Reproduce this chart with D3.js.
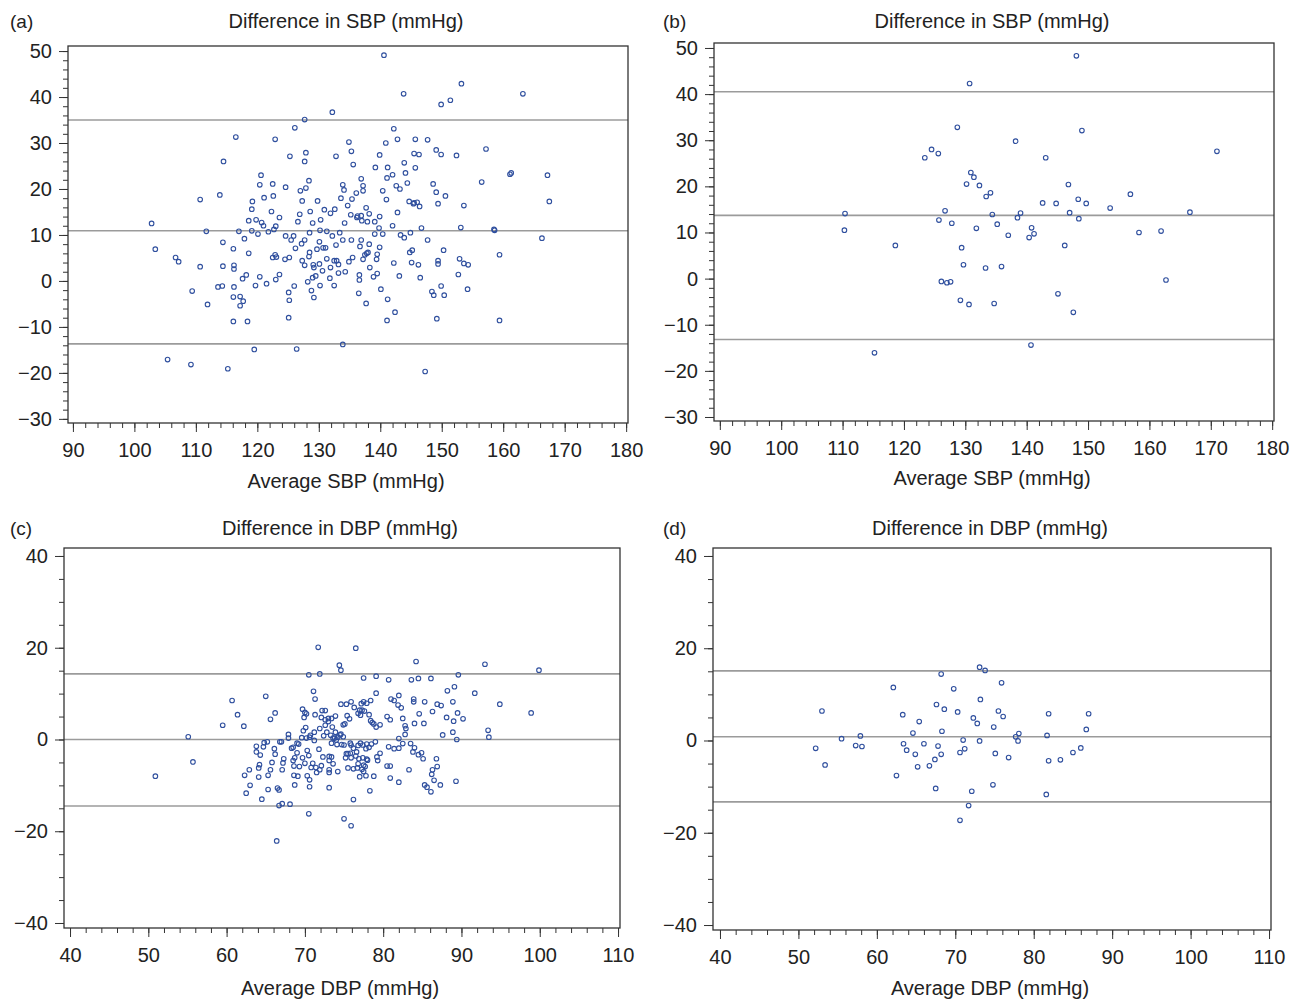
<!DOCTYPE html>
<html>
<head>
<meta charset="utf-8">
<script src="https://cdn.jsdelivr.net/npm/d3@7"></script>
<style>
  body { margin: 0; background: #fff; }
  text { font-family: "Liberation Sans", Arial, Helvetica, sans-serif; fill: #222; }
</style>
</head>
<body>
<div id="chart"></div>
<script>
// ---- data: [average, difference] ----
const sbpAllPoints = [
  [132.2,36.7],[127.7,35.1],[126.1,33.3],[116.5,31.3],[122.9,30.8],[127.9,27.9],[125.3,27.1],[132.8,27.1],[114.5,26.0],[127.7,26.0],
  [120.6,23.0],[120.4,20.9],[122.5,21.1],[124.6,20.4],[128.4,21.8],[127.9,20.2],[127.0,19.6],[133.9,20.9],[134.1,19.8],[113.9,18.7],
  [110.7,17.7],[121.1,18.1],[122.6,18.5],[119.2,17.3],[127.3,17.4],[129.8,17.4],[133.6,18.0],[119.1,15.6],[122.3,15.1],[128.6,15.1],
  [130.9,15.5],[132.6,15.6],[131.9,14.7],[126.9,14.5],[123.6,13.8],[118.6,13.1],[119.8,13.3],[120.7,12.7],[121.0,12.0],[123.0,11.9],
  [122.7,11.2],[126.6,12.9],[129.0,12.6],[130.3,13.3],[134.2,12.6],[102.8,12.5],
  [140.6,49.1],[143.8,40.7],[153.2,42.9],[149.9,38.4],[151.4,39.3],[163.2,40.7],[142.2,33.1],[134.9,30.2],[140.9,30.0],[142.8,30.8],
  [145.7,30.8],[147.7,30.7],[135.3,28.2],[139.9,27.4],[145.5,27.7],[146.3,27.5],[149.1,28.5],[149.9,27.5],[152.4,27.3],[157.2,28.7],
  [135.6,25.3],[139.2,24.7],[141.2,24.7],[143.9,25.7],[145.7,24.6],[144.1,23.5],[142.0,23.1],[141.1,22.4],[136.9,22.2],[137.2,20.7],
  [137.2,19.6],[136.1,19.1],[140.4,19.6],[142.6,20.7],[143.2,20.0],[144.4,21.3],[148.6,21.1],[149.1,19.3],[150.6,18.5],[156.5,21.5],
  [161.1,23.2],[161.3,23.5],[167.2,23.0],[134.7,16.4],[135.4,17.8],[141.0,17.7],[137.7,15.9],[144.7,17.3],[145.4,16.8],[145.5,17.0],
  [146.0,17.1],[146.4,16.2],[149.4,16.8],[153.6,16.4],[167.5,17.3],[135.2,14.4],[136.2,13.8],[136.3,14.1],[136.9,14.2],[137.0,13.1],
  [137.9,12.9],[138.2,14.6],[139.1,12.9],[139.9,14.0],[142.8,14.9],[142.0,12.0],[139.8,11.5],[146.7,11.5],[153.1,11.6],[158.5,11.2],
  [158.6,11.0],
  [111.7,10.8],[117.0,10.8],[119.1,10.9],[120.1,10.2],[121.8,10.7],[124.6,9.8],[125.9,9.8],[125.5,8.9],[128.5,10.5],[130.2,11.0],
  [131.3,10.8],[132.2,9.8],[133.4,10.5],[133.9,8.9],[127.2,8.1],[127.7,8.9],[130.1,8.5],[126.2,7.1],[130.7,7.2],[131.1,7.2],
  [129.7,6.9],[128.5,6.2],[132.8,7.8],[103.4,6.9],[114.4,8.4],[117.9,9.2],[116.1,7.0],[118.6,6.0],[106.7,5.1],[107.2,4.2],
  [110.7,3.1],[114.4,3.2],[116.2,3.4],[116.2,2.6],[122.9,5.7],[122.5,5.1],[123.1,5.2],[124.5,4.7],[125.2,5.1],[127.3,4.4],
  [127.7,3.4],[128.4,5.3],[129.1,3.5],[129.2,2.9],[130.1,3.7],[131.3,4.8],[132.5,4.4],[132.9,4.4],[133.2,3.6],[131.9,2.9],
  [130.6,2.2],[133.2,1.7],[134.3,2.0],[118.2,1.3],[117.6,0.5],[120.4,0.9],[123.6,1.4],[123.0,0.3],[121.5,-0.6],[119.7,-1.0],
  [116.2,-1.3],[113.6,-1.3],[114.3,-1.1],[109.4,-2.2],[111.9,-5.1],[116.1,-3.5],[117.2,-3.4],[117.7,-4.4],[117.2,-5.4],[125.1,-2.5],
  [126.0,-1.1],[125.2,-4.2],[128.2,-0.2],[129.0,0.7],[129.5,1.1],[128.8,-2.1],[129.2,-3.6],[130.2,-1.0],[131.8,0.6],[132.5,-1.0],
  [116.1,-8.8],[118.4,-8.8],[125.1,-8.0],[133.9,-13.8],[119.5,-14.9],[126.4,-14.8],[105.4,-17.1],[109.2,-18.2],[115.2,-19.1],
  [139.1,10.2],[140.4,10.2],[143.3,10.0],[143.9,9.4],[144.9,10.5],[166.3,9.3],[135.3,8.9],[136.9,8.9],[138.2,8.0],[136.7,7.5],
  [139.9,7.3],[147.7,8.9],[134.9,4.2],[135.5,5.1],[137.2,4.7],[137.5,5.7],[137.8,6.0],[138.0,6.2],[139.4,4.7],[139.5,5.8],
  [138.3,2.9],[136.6,1.3],[136.6,0.2],[138.9,0.9],[139.5,1.6],[142.2,3.9],[143.1,1.1],[144.8,6.2],[145.2,6.7],[145.1,4.0],
  [146.2,3.5],[146.5,0.7],[150.3,6.7],[149.4,4.4],[149.4,3.7],[152.9,4.8],[153.6,3.8],[154.3,3.5],[159.4,5.7],[152.7,1.4],
  [154.2,-1.8],[149.9,-1.1],[148.7,-3.1],[150.4,-3.1],[148.4,-2.3],[140.1,-1.8],[136.5,-2.7],[137.7,-4.9],[141.2,-4.0],[142.4,-6.8],
  [141.1,-8.6],[149.2,-8.2],[159.4,-8.6],[147.3,-19.7]
];
const sbpAllLimits = [35.0, 10.9, -13.7];

const sbpSubPoints = [
  [148.1,48.3],[130.7,42.3],[128.7,32.8],[149.0,32.1],[138.2,29.8],[171.0,27.6],[124.5,28.0],[125.6,27.1],[123.4,26.2],[143.1,26.2],
  [130.9,23.0],[131.4,22.0],[130.2,20.5],[132.3,20.2],[146.8,20.4],[134.1,18.6],[133.4,17.8],[156.9,18.3],[142.6,16.4],[144.8,16.3],
  [148.4,17.2],[149.7,16.3],[153.6,15.3],[110.4,14.1],[126.7,14.7],[134.4,13.9],[139.0,14.2],[147.0,14.3],[166.6,14.4],[125.7,12.7],
  [127.8,12.0],[138.5,13.2],[148.5,13.0],[135.2,11.8],[110.3,10.5],[131.8,10.9],[140.8,11.0],[141.2,9.7],[137.0,9.4],[140.4,8.9],
  [158.3,10.0],[161.9,10.3],[118.6,7.2],[129.4,6.7],[146.2,7.2],[129.7,3.0],[133.3,2.3],[135.9,2.6],[162.7,-0.3],[126.1,-0.6],
  [127.0,-0.9],[127.6,-0.7],[145.1,-3.3],[129.2,-4.7],[130.6,-5.6],[134.7,-5.4],[147.6,-7.3],[140.7,-14.4],[115.2,-16.1]
];
const sbpSubLimits = [40.5, 13.7, -13.2];

const dbpAllPoints = [
  [60.7,8.5],[65.0,9.4],[61.4,5.4],[65.6,4.4],[59.5,3.1],[62.2,2.9],[55.1,0.6],[55.7,-4.9],[50.9,-8.0],[63.8,-1.5],
  [63.8,-2.7],[64.8,-0.7],[65.2,-0.5],[64.7,-1.6],[66.1,-2.0],[66.2,5.8],[66.2,-3.2],[64.3,-3.4],[65.8,-5.0],[64.2,-5.5],
  [64.1,-6.2],[62.9,-6.6],[65.6,-6.6],[62.3,-7.8],[64.1,-8.2],[65.3,-7.8],[63.0,-10.0],[62.5,-11.7],[65.3,-10.9],[66.5,-10.6],
  [66.7,-11.0],[64.5,-13.0],[66.7,-14.4],[66.4,-22.1],[66.8,-0.5],
  [71.7,20.1],[76.5,19.9],[74.4,16.2],[74.6,15.1],[70.5,14.1],[71.9,14.3],[77.5,13.4],[79.1,13.8],[80.7,13.0],[71.1,10.5],
  [71.3,8.8],[79.1,10.1],[82.0,9.6],[74.6,7.7],[75.3,7.7],[75.9,8.2],[77.2,7.8],[77.5,8.2],[77.9,7.9],[78.4,8.5],
  [81.0,8.8],[81.4,8.5],[81.9,7.5],[82.3,6.9],[69.7,6.6],[70.0,5.9],[70.2,5.6],[69.9,4.8],[72.2,6.3],[72.6,6.3],
  [71.3,5.4],[73.0,4.6],[73.4,4.6],[73.9,5.1],[72.6,4.3],[73.0,3.9],[72.1,4.8],[75.4,5.2],[76.3,7.0],[77.0,6.4],
  [77.3,6.4],[77.6,6.2],[77.1,5.3],[76.8,5.7],[74.9,3.2],[75.1,3.4],[75.7,4.5],[78.2,5.4],[78.6,3.7],[78.8,3.4],
  [78.4,4.1],[79.6,3.2],[79.1,2.7],[80.5,5.0],[80.9,4.3],[82.5,4.6],[82.8,3.0],[70.1,2.6],[69.8,1.9],[71.2,1.6],
  [71.9,2.4],[72.6,3.1],[73.5,2.7],[73.9,1.6],[70.7,0.9],[70.6,0.5],[71.2,-0.2],[70.2,0.3],[69.6,0.4],[67.9,1.1],
  [67.9,0.3],[67.0,-0.5],[69.0,-0.8],[69.2,-1.0],[72.4,0.8],[72.8,1.6],[73.3,0.9],[73.6,0.3],[73.8,0.3],[74.2,0.5],
  [74.5,1.0],[74.6,1.2],[74.0,-0.1],[73.4,-0.8],[74.1,-1.1],[74.7,-1.1],[74.9,0.6],[75.0,-1.2],[75.8,-0.8],[75.9,-1.2],
  [76.2,-1.9],[76.8,-1.3],[77.1,-0.8],[77.4,-1.2],[77.9,-1.0],[78.2,-1.7],[78.5,-1.0],[79.0,-0.5],[77.8,-2.0],[75.3,-3.1],
  [75.5,-3.1],[75.8,-3.0],[75.2,-4.0],[75.9,-4.0],[76.5,-3.6],[76.9,-4.2],[77.4,-4.0],[77.9,-4.3],[76.6,-2.7],[71.8,-2.1],
  [72.3,-3.8],[73.1,-3.7],[73.4,-3.8],[73.1,-4.6],[73.6,-5.3],[73.1,-6.6],[73.1,-7.2],[72.1,-5.7],[71.9,-6.6],[71.5,-7.2],
  [71.4,-6.1],[70.8,-6.1],[71.0,-5.2],[70.3,-2.4],[70.5,-3.5],[69.0,-2.9],[68.7,-4.0],[68.5,-4.6],[69.7,-4.0],[70.0,-5.2],
  [69.3,-5.9],[68.6,-5.8],[69.1,-8.0],[68.6,-7.8],[67.3,-4.2],[67.2,-5.1],[67.1,-6.6],[68.3,-1.9],[68.5,-1.7],[70.3,-7.9],
  [70.6,-8.8],[70.6,-10.3],[68.7,-9.9],[74.2,-7.0],[73.1,-10.5],[75.5,-6.2],[76.2,-6.4],[76.7,-6.2],[77.3,-6.5],[77.7,-5.9],
  [77.5,-7.0],[77.0,-8.1],[77.8,-7.9],[78.8,-8.0],[76.8,-5.3],[77.5,-5.6],[78.0,-4.5],[79.3,-4.6],[79.6,-3.0],[79.2,-3.8],
  [80.5,-5.8],[80.9,-5.8],[80.9,-8.4],[82.0,-9.3],[78.3,-11.2],[76.2,-13.1],[75.0,-17.3],[75.9,-18.8],[70.5,-16.2],[68.1,-14.1],
  [67.1,-14.0],[80.7,-1.6],[81.4,-2.0],[82.0,-1.9],[82.0,0.2],[82.5,-0.9],
  [84.2,17.0],[93.0,16.4],[99.9,15.1],[89.6,14.1],[83.6,13.0],[84.5,13.3],[86.1,13.3],[89.1,11.5],[88.2,10.6],[91.7,10.1],
  [83.9,8.8],[83.9,8.2],[85.3,8.2],[86.9,7.7],[87.4,7.4],[88.9,8.2],[94.9,7.7],[86.3,6.1],[84.6,5.6],[89.5,5.8],
  [98.9,5.8],[88.1,4.8],[90.2,4.5],[89.0,4.0],[84.0,3.5],[85.2,3.5],[82.9,2.4],[82.8,1.1],[93.4,2.0],[87.6,1.0],
  [88.9,1.6],[93.5,0.5],[89.4,0.0],[83.5,-0.9],[84.0,-1.8],[83.8,-2.7],[84.5,-3.3],[84.9,-2.9],[85.1,-4.2],[86.8,-4.2],
  [86.9,-5.9],[86.3,-6.6],[83.3,-6.6],[86.2,-7.6],[86.5,-8.9],[89.3,-9.1],[85.3,-9.9],[85.6,-10.4],[87.3,-9.9],[86.1,-11.4]
];
const dbpAllLimits = [14.3, 0.0, -14.5];

const dbpSubPoints = [
  [73.1,15.9],[73.8,15.2],[68.2,14.4],[75.9,12.5],[62.1,11.5],[69.8,11.2],[73.2,8.9],[67.6,7.8],[68.6,6.8],[53.0,6.4],
  [70.3,6.2],[75.5,6.4],[81.9,5.8],[87.0,5.8],[63.3,5.6],[76.1,5.2],[72.3,4.9],[65.4,4.1],[72.8,3.7],[74.9,2.9],
  [86.7,2.4],[68.3,2.0],[64.6,1.6],[57.9,1.0],[78.1,1.5],[77.7,0.8],[81.7,1.1],[55.5,0.4],[71.0,0.1],[73.1,-0.1],
  [78.0,-0.1],[52.2,-1.7],[57.3,-1.1],[58.1,-1.3],[63.4,-0.7],[66.0,-0.7],[67.8,-1.2],[63.8,-2.1],[71.2,-1.8],[70.6,-2.6],
  [64.9,-3.0],[68.2,-3.0],[75.1,-2.8],[86.0,-1.6],[85.0,-2.6],[76.8,-3.7],[67.4,-4.1],[81.9,-4.4],[83.4,-4.2],[53.4,-5.3],
  [65.2,-5.7],[66.7,-5.5],[62.5,-7.6],[74.8,-9.6],[67.5,-10.4],[72.1,-11.0],[81.6,-11.7],[71.7,-14.1],[70.6,-17.3]
];
const dbpSubLimits = [15.1, 0.8, -13.3];

const sbpAvgTicks = [90, 100, 110, 120, 130, 140, 150, 160, 170, 180];
const sbpDiffTicks = [-30, -20, -10, 0, 10, 20, 30, 40, 50];
const dbpAvgTicks = [40, 50, 60, 70, 80, 90, 100, 110];
const dbpDiffTicks = [-40, -20, 0, 20, 40];

// ---- layout ----
const width = 1291, height = 999;
const pointColor = "#2f4f9e";
const limitColor = "#9b9b9b";
const frameColor = "#333";

const svg = d3.select("#chart").append("svg")
  .attr("width", width).attr("height", height);

const panels = [
  { tag: "(a)", ytitle: "Difference in SBP (mmHg)", xtitle: "Average SBP (mmHg)",
    box: { l: 68, r: 628, t: 46, b: 423 }, xDomain: [89.2, 180.3], yDomain: [-30.9, 51.1],
    xTicks: sbpAvgTicks, yTicks: sbpDiffTicks, xMinor: 2, yMinor: 2,
    tagX: 10, titleY: 28, xTitleY: 488,
    points: sbpAllPoints, limits: sbpAllLimits },
  { tag: "(b)", ytitle: "Difference in SBP (mmHg)", xtitle: "Average SBP (mmHg)",
    box: { l: 714, r: 1274, t: 43, b: 421 }, xDomain: [89.05, 180.3], yDomain: [-30.87, 51.08],
    xTicks: sbpAvgTicks, yTicks: sbpDiffTicks, xMinor: 2, yMinor: 2,
    tagX: 663, titleY: 28, xTitleY: 485,
    points: sbpSubPoints, limits: sbpSubLimits },
  { tag: "(c)", ytitle: "Difference in DBP (mmHg)", xtitle: "Average DBP (mmHg)",
    box: { l: 64, r: 620, t: 548, b: 928 }, xDomain: [39.23, 110.25], yDomain: [-41.09, 41.74],
    xTicks: dbpAvgTicks, yTicks: dbpDiffTicks, xMinor: 2, yMinor: 5,
    tagX: 10, titleY: 535, xTitleY: 995,
    points: dbpAllPoints, limits: dbpAllLimits },
  { tag: "(d)", ytitle: "Difference in DBP (mmHg)", xtitle: "Average DBP (mmHg)",
    box: { l: 713, r: 1271, t: 548, b: 930 }, xDomain: [39.11, 110.25], yDomain: [-41.08, 41.73],
    xTicks: dbpAvgTicks, yTicks: dbpDiffTicks, xMinor: 2, yMinor: 5,
    tagX: 663, titleY: 535, xTitleY: 995,
    points: dbpSubPoints, limits: dbpSubLimits }
];

const fmt = d => d < 0 ? "\u2212" + Math.abs(d) : String(d);

function drawPanel(p) {
  const { l, r, t, b } = p.box;
  const x = d3.scaleLinear().domain(p.xDomain).range([l, r]);
  const y = d3.scaleLinear().domain(p.yDomain).range([b, t]);
  const g = svg.append("g");

  // limits of agreement and mean difference
  g.append("g").selectAll("line")
    .data(p.limits)
    .join("line")
      .attr("x1", l).attr("x2", r)
      .attr("y1", d => y(d)).attr("y2", d => y(d))
      .attr("stroke", limitColor).attr("stroke-width", 1.6);

  // minor ticks
  const xMin = p.xTicks[0], xMax = p.xTicks[p.xTicks.length - 1];
  const yMin = p.yTicks[0], yMax = p.yTicks[p.yTicks.length - 1];
  const xMinorVals = d3.range(xMin, xMax + 0.001, p.xMinor);
  const yMinorVals = d3.range(yMin, yMax + 0.001, p.yMinor);

  g.append("g")
    .attr("transform", `translate(0,${b})`)
    .call(d3.axisBottom(x).tickValues(xMinorVals).tickSize(5).tickFormat(""))
    .call(s => s.select(".domain").remove());
  g.append("g")
    .attr("transform", `translate(${l},0)`)
    .call(d3.axisLeft(y).tickValues(yMinorVals).tickSize(5).tickFormat(""))
    .call(s => s.select(".domain").remove());

  // major ticks with labels
  const xAxis = g.append("g")
    .attr("transform", `translate(0,${b})`)
    .call(d3.axisBottom(x).tickValues(p.xTicks).tickSize(9).tickPadding(11).tickFormat(fmt));
  const yAxis = g.append("g")
    .attr("transform", `translate(${l},0)`)
    .call(d3.axisLeft(y).tickValues(p.yTicks).tickSize(9).tickPadding(7).tickFormat(fmt));
  [xAxis, yAxis].forEach(a => {
    a.select(".domain").remove();
    a.selectAll("text").attr("font-size", 20).attr("fill", "#222")
      .attr("font-family", "'Liberation Sans', Arial, Helvetica, sans-serif");
  });
  g.selectAll(".tick line").attr("stroke", frameColor);

  // frame
  g.append("rect")
    .attr("x", l).attr("y", t)
    .attr("width", r - l).attr("height", b - t)
    .attr("fill", "none").attr("stroke", frameColor).attr("stroke-width", 1.3);

  // points
  g.append("g").selectAll("circle")
    .data(p.points)
    .join("circle")
      .attr("cx", d => x(d[0]))
      .attr("cy", d => y(d[1]))
      .attr("r", 2.3)
      .attr("fill", "none")
      .attr("stroke", pointColor)
      .attr("stroke-width", 1.1);

  // titles
  const cx = (l + r) / 2;
  g.append("text")
    .attr("x", cx - 2).attr("y", p.titleY)
    .attr("text-anchor", "middle").attr("font-size", 20)
    .text(p.ytitle);
  g.append("text")
    .attr("x", cx - 2).attr("y", p.xTitleY)
    .attr("text-anchor", "middle").attr("font-size", 20)
    .text(p.xtitle);
  g.append("text")
    .attr("x", p.tagX).attr("y", p.titleY)
    .attr("font-size", 19)
    .text(p.tag);
}

panels.forEach(drawPanel);
</script>
</body>
</html>
